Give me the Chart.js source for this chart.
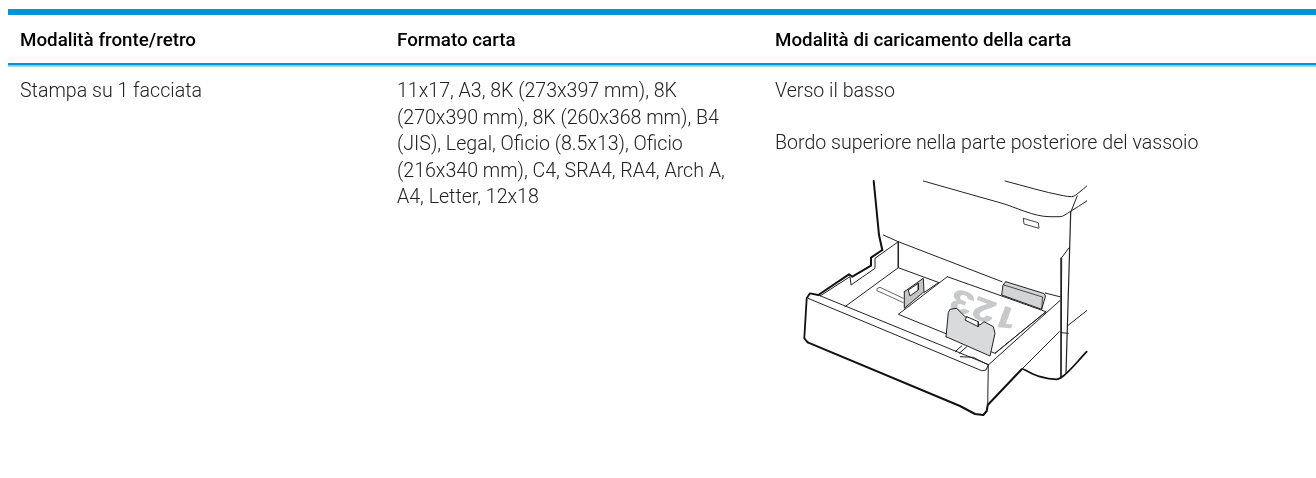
<!DOCTYPE html>
<html><head><meta charset="utf-8"><style>html,body{margin:0;padding:0;background:#fff}canvas{display:block}</style>
<script src="https://cdn.jsdelivr.net/npm/chart.js@4"></script></head><body>
<div style="width:1316px;height:478px"><canvas id="c" width="1316" height="478"></canvas></div>
<script>
const headers=["Modalità fronte/retro","Formato carta","Modalità di caricamento della carta"];
const col1Lines=["Stampa su 1 facciata"];
const col2Lines=["11x17, A3, 8K (273x397 mm), 8K","(270x390 mm), 8K (260x368 mm), B4","(JIS), Legal, Oficio (8.5x13), Oficio","(216x340 mm), C4, SRA4, RA4, Arch A,","A4, Letter, 12x18"];
const col3Lines=["Verso il basso","","Bordo superiore nella parte posteriore del vassoio"];
const paperLabel="123";
const P=a=>a.map(p=>({x:p[0],y:p[1]}));
const ruleTop=[[8,12],[1316,12]];
const ruleHead=[[8,64.3],[1316,64.3]];
const ruleHeadLight=[[8,66.2],[1316,66.2]];
const lid=[[873.7,181],[879,235],[882.3,250]];
const bodyTop=[[923.3,181],[1000,202.7],[1050,216.7],[1060,216.7],[1070,211.7],[1086.7,201]];
const bodyUpper=[[1005,181],[1063.3,195.7],[1071.7,196.7],[1080,191.7],[1086.7,186]];
const bodyCorner=[[1077.3,195.7],[1070.7,212.3]];
const bodyRight=[[1070.7,212.3],[1066,373.3]];
const bodyInner=[[1069,247.7],[1061.7,257.7],[1061,378]];
const bodySeam=[[1067.3,326],[1086.7,310.7]];
const bodySeam2=[[1061,332.7],[1068.3,333.3]];
const bodyBottom=[[1023.3,369.3],[1040,376.7],[1056.7,379.3],[1063.3,376],[1086.7,351.7]];
const badge=[[1023.3,218.3],[1038.3,222.7],[1039,228.3],[1024,224],[1023.3,218.3]];
const backA=[[883.3,235],[898.3,241.7]];
const backB=[[898.3,241.7],[1002,281.7]];
const backC=[[1045,293],[1061,297]];
const wallThick=[[818.3,295],[849,274.3],[852.3,276.7],[871,265.7],[871,257.7],[882.3,250]];
const wallInner=[[820,296],[850,276.7],[851,285],[875,268.3],[875,258.3],[898.3,241.7]];
const wallBack=[[898.3,241.7],[898.3,267.7],[845,306.7]];
const floorA=[[898.3,267.7],[940,283]];
const floorGuide=[[924,292.5],[938,283]];
const paper=[[947.3,276.7],[1046,311.7],[995,353.3],[946.7,334],[898.3,314.3],[947.3,276.7]];
const rod=[[881.7,292.7],[877.5,291],[877,288.5],[880,287.3],[903.3,298.3]];
const rodEnd=[[881.7,292.7],[903.3,302.7]];
const guideLeft=[[904.3,291.7],[923.3,278.3],[924,291.7],[904.3,308.3],[904.3,291.7]];
const guideLeftWin=[[908.3,290],[918.3,283.3],[918.3,290],[910,296],[908.3,290]];
const guideRear=[[1005.7,281.7],[1044,293.5],[1045.5,296],[1041.7,309.3],[1001.7,295],[1003,285],[1005.7,281.7]];
const guideRearEdge=[[1004,285],[1042.5,297],[1041.7,309.3]];
const guideFront=[[946,336.7],[948.3,312.7],[950,309.3],[956.7,308.3],[965,316.7],[980,325],[984,321.7],[993.3,326.7],[995,333.3],[990,356],[946,336.7]];
const guideFrontWin=[[966.7,316.7],[978.3,321.7],[978.3,326.7],[965,320],[966.7,316.7]];
const slitA=[[955,351.7],[961.7,346]];
const slitB=[[959.3,353.3],[966.7,346.7]];
const trayRight=[[988.3,365],[1060,300.5]];
const trayRight2=[[1021.7,369.3],[1059.3,331.7]];
const trayFloor=[[960,356.7],[973.3,357.3],[988.3,365]];
const floorB=[[995,353.3],[1046,311.7]];
const faceUpper=[[818.3,295],[988.3,364.5]];
const faceFront=[[808,298.3],[981.7,370.7],[986,370],[988.3,365],[987.7,405]];
const faceLeft=[[818.3,295],[810,293.3],[806.7,298.3],[804.3,338.3],[807.7,342.3]];
const faceBottom=[[807.7,342.3],[960,406],[975,414],[983.3,415],[986.7,411],[987.7,405],[1021.7,369.3]];
const draws=[
 [ruleTop,'#0096D6',6],[ruleHead,'#0096D6',2.6],[ruleHeadLight,'#7cc8ea',1],
 [bodyUpper,'#222',1,0,0,1],[bodyTop,'#222',1,0,0,1],[bodyCorner,'#222',1],[bodyRight,'#222',1.2],[bodyInner,'#222',1],[bodySeam,'#222',1],[bodySeam2,'#222',1],[bodyBottom,'#111',1.8,0,0,1],
 [badge,'#444',1,'#fff'],[backA,'#222',1],[backB,'#222',1],[backC,'#222',1],
 [wallBack,'#222',1],[floorA,'#222',1],[floorGuide,'#222',1],[rod,'#444',.8],[rodEnd,'#444',.8],[guideRear,'#222',1,'#d3d4d5'],[guideRearEdge,'#222',.8],
 [paper,'#222',1,'#fff','paper'],
 [guideLeft,'#222',1,'#c4c5c6'],[guideLeftWin,'#222',1,'#fff'],[guideFront,'#222',1,'#d9dadb'],[guideFrontWin,'#222',1,'#fff'],
 [slitA,'#222',1],[slitB,'#222',1],[floorB,'#222',1],[trayRight,'#222',1],[trayRight2,'#222',1],[trayFloor,'#222',1],
 [wallInner,'#222',1],[wallThick,'#111',2],[lid,'#111',2],
 [faceUpper,'#222',1],[faceFront,'#222',1],[faceLeft,'#111',1.8],[faceBottom,'#111',2]
];
let paperIndex=-1;
const datasets=draws.map((d,i)=>{ if(d[4]==='paper')paperIndex=i; return {data:P(d[0]),showLine:true,pointRadius:0,borderColor:d[1],borderWidth:d[2],fill:d[3]?'shape':false,backgroundColor:d[3]||'transparent',order:draws.length-i,borderCapStyle:i<3?'butt':'round',borderJoinStyle:'round',cubicInterpolationMode:d[5]?'monotone':'default',tension:0};});
const HEAD='500 18.8px Roboto',BODY='300 19.6px Roboto';
const textPlugin={id:'tablet',
 afterDatasetDraw(ch,a){ if(a.index!==paperIndex)return; const c=ch.ctx,xs=ch.scales.x,ys=ch.scales.y; c.save();c.translate(xs.getPixelForValue(985),ys.getPixelForValue(307));c.rotate(200*Math.PI/180);c.scale(1.12,.88);c.font='900 36px Roboto';c.fillStyle='#c8c9ca';c.textAlign='center';c.textBaseline='middle';c.fillText(paperLabel,0,0);c.restore();},
 afterDraw(ch){const c=ch.ctx,xs=ch.scales.x,ys=ch.scales.y;c.save();c.textBaseline='middle';c.textAlign='left';
  const t=(s,x,y,f,col)=>{c.font=f;c.fillStyle=col;c.fillText(s,xs.getPixelForValue(x),ys.getPixelForValue(y));};
  const cols=[20,397,775];
  headers.forEach((h,i)=>t(h,cols[i],41,HEAD,'#000'));
  col1Lines.forEach((s,i)=>t(s,cols[0],92,BODY,'#222'));
  col2Lines.forEach((s,i)=>t(s,cols[1],92+i*26.6,BODY,'#222'));
  col3Lines.forEach((s,i)=>t(s,cols[2],92+i*26,BODY,'#222'));
  c.restore();}
};
new Chart(document.getElementById('c'),{type:'scatter',data:{datasets},plugins:[textPlugin],options:{responsive:false,animation:false,layout:{padding:0},
 plugins:{legend:{display:false},tooltip:{enabled:false},title:{display:false}},
 scales:{x:{type:'linear',min:0,max:1316,display:false},y:{type:'linear',min:0,max:478,reverse:true,display:false}}}});
</script></body></html>
